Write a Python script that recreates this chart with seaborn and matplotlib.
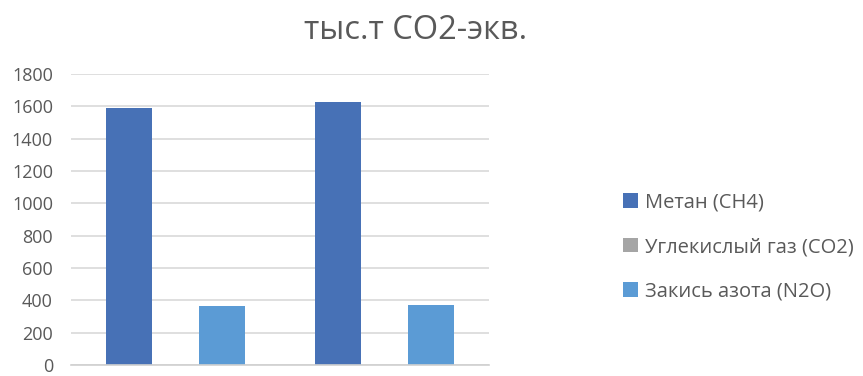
import matplotlib
matplotlib.use("Agg")
import matplotlib.pyplot as plt
import pandas as pd
import seaborn as sns

# values
groups = ["1", "2"]
gases = ["Метан (CH4)", "Углекислый газ (CO2)", "Закись азота (N2O)"]
methane = [1588, 1627]
co2 = [0, 0]
n2o = [365, 372]
title = "тыс.т CO2-экв."

colors = ["#4771B6", "#A5A5A5", "#5B9BD5"]

rows = []
for i, g in enumerate(groups):
    rows.append([g, gases[0], methane[i]])
    rows.append([g, gases[1], co2[i]])
    rows.append([g, gases[2], n2o[i]])
df = pd.DataFrame(rows, columns=["group", "gas", "value"])

sns.set_theme(style="white")
plt.rcParams["font.family"] = ["Open Sans", "DejaVu Sans"]

fig = plt.figure(figsize=(8.63, 3.76), dpi=100)
ax = fig.add_axes([0.0823, 0.029, 0.4843, 0.774])

sns.barplot(df, x="group", y="value", hue="gas", hue_order=gases,
            palette=colors, width=0.667, linewidth=0, saturation=1,
            ax=ax, legend=True)

ax.set_ylim(0, 1800)
ax.set_yticks(range(0, 1801, 200))
ax.set_xticklabels([])
ax.set_xlabel("")
ax.set_ylabel("")
ax.yaxis.grid(True, color="#D9D9D9", linewidth=1.2)
ax.set_axisbelow(True)
for s in ["top", "right", "left"]:
    ax.spines[s].set_visible(False)
ax.spines["bottom"].set_color("#D0D0D0")
ax.spines["bottom"].set_linewidth(1.2)
ax.tick_params(axis="y", length=0, pad=13, labelsize=13, labelcolor="#595959")
ax.tick_params(axis="x", length=0)

handles, labels = ax.get_legend_handles_labels()
ax.get_legend().remove()
fig.legend(handles, labels, loc="center left", bbox_to_anchor=(0.722, 0.343),
           frameon=False, fontsize=14.5, labelcolor="#595959",
           handlelength=0.75, handleheight=0.75, handletextpad=0.35,
           labelspacing=1.2, borderpad=0, borderaxespad=0)

fig.text(0.482, 0.896, title, ha="center", va="baseline", fontsize=23.5, color="#595959")

plt.savefig("out.png", dpi=100)
